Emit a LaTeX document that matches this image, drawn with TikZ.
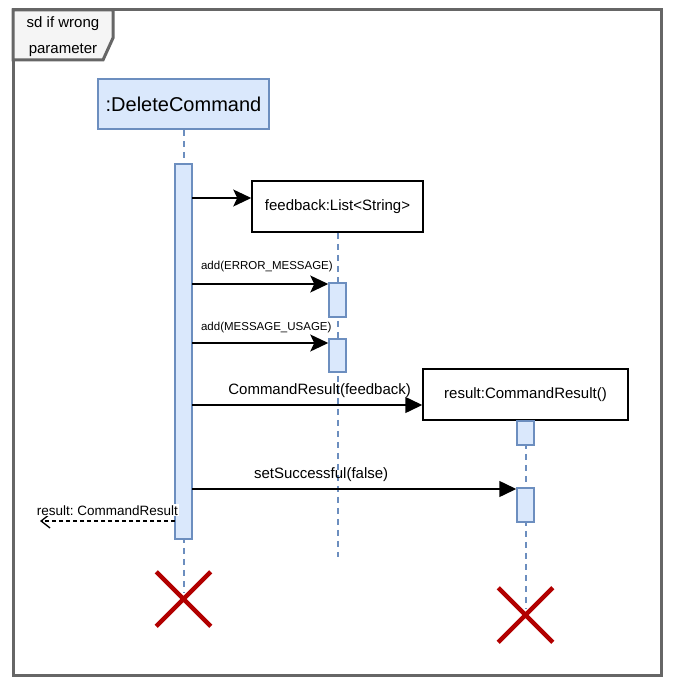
\documentclass[tikz,border=0pt]{standalone}
\usepackage{fontspec}
\setmainfont{Liberation Sans}
\usetikzlibrary{arrows.meta,shapes.misc}
\definecolor{lifefill}{HTML}{DAE8FC}
\definecolor{lifeblue}{HTML}{6C8EBF}
\definecolor{framegray}{HTML}{666666}
\definecolor{tabfill}{HTML}{F5F5F5}
\definecolor{killred}{HTML}{B20000}
\begin{document}
\begin{tikzpicture}[x=1pt, y=-1pt,
      head/.style={rectangle, draw=lifeblue, fill=lifefill, line width=1.5pt, minimum width=171pt, minimum height=50pt, font=\fontsize{20}{24}\selectfont},
      obj/.style={rectangle, draw=black, fill=white, line width=1.5pt, minimum width=171pt, minimum height=51pt, font=\fontsize{15}{18}\selectfont},
      act/.style={rectangle, draw=lifeblue, fill=lifefill, line width=1.5pt, minimum width=17pt, inner sep=0pt},
      life/.style={draw=lifeblue, line width=2pt, dash pattern=on 6pt off 5pt},
      kill/.style={cross out, draw=killred, line width=4.5pt, minimum size=50pt, inner sep=0pt},
      msg/.style={-{Stealth[length=18pt,width=17pt,inset=4pt]}, line width=1.5pt},
      call/.style={-{Triangle[length=17pt,width=16pt]}, line width=1.5pt},
      ret/.style={-{Straight Barb[length=9pt,width=14pt]}, line width=1.3pt, dash pattern=on 4pt off 3pt},
      big/.style={font=\fontsize{15}{18}\selectfont},
      small/.style={font=\fontsize{11.5}{14}\selectfont}]
            \useasboundingbox (0,0) rectangle (682,693);
            % frame and its tab
            \draw[framegray, line width=3pt] (13,10) rectangle (661,675);
            \draw[framegray, line width=3pt, fill=tabfill] (13,10) -- (113,10) -- (113,38) -- (103,60) -- (13,60) -- cycle;
            \node[big] (sd) at (63,24) {sd if wrong};
            \node[big] (par) at (63,50) {parameter};
            % objects
            \node[head] (dc) at (183.5,104) {:DeleteCommand};
            \node[obj] (fb) at (337.5,206.5) {feedback:List<String>};
            \node[obj, minimum width=205pt] (res) at (525.5,394.5) {result:CommandResult()};
            \coordinate (end1) at (183.5,592);
            \coordinate (fbend) at (337.5,557);
            \coordinate (end2) at (525.5,608);
            \draw[life] (dc) -- (end1);
            \draw[life] (fb) -- (fbend);
            \draw[life] (res) -- (end2);
            % activations
            \node[act, minimum height=375pt] (a0) at (183.5,351.5) {};
            \node[act, minimum height=34pt] (a1) at (337.5,300) {};
            \node[act, minimum height=33pt] (a2) at (337.5,355.5) {};
            \node[act, minimum height=24pt] (a3) at (525.5,433) {};
            \node[act, minimum height=34pt] (a4) at (525.5,505) {};
            \node[kill] (x1) at (183.5,599) {};
            \node[kill] (x2) at (525.5,615) {};
            % messages
            \coordinate (m1) at (192,198);
            \coordinate (m2) at (192,284);
            \coordinate (m3) at (192,343);
            \coordinate (m4) at (192,405);
            \coordinate (m5) at (192,489);
            \coordinate (r1) at (175,521);
            \coordinate (r2) at (40,521);
            \draw[msg] (m1) -- (m1 -| fb.west);
            \draw[msg] (m2) -- node[pos=0, anchor=base west, small, xshift=5pt, yshift=15pt] {add(ERROR\_MESSAGE)} (m2 -| a1.west);
            \draw[msg] (m3) -- node[pos=0, anchor=base west, small, xshift=5pt, yshift=13pt] {add(MESSAGE\_USAGE)} (m3 -| a2.west);
            \draw[call] (m4) -- node[midway, above, big, xshift=12.5pt, yshift=3pt] {CommandResult(feedback)} (m4 -| res.west);
            \draw[call] (m5) -- node[midway, above, big, xshift=-33pt, yshift=3pt] {setSuccessful(false)} (m5 -| a4.west);
            \draw[ret] (r1) -- node[midway, above, fill=white, inner sep=1pt, yshift=4pt, font=\fontsize{13.5}{16}\selectfont] {result:\ CommandResult} (r2);
\end{tikzpicture}
\end{document}
